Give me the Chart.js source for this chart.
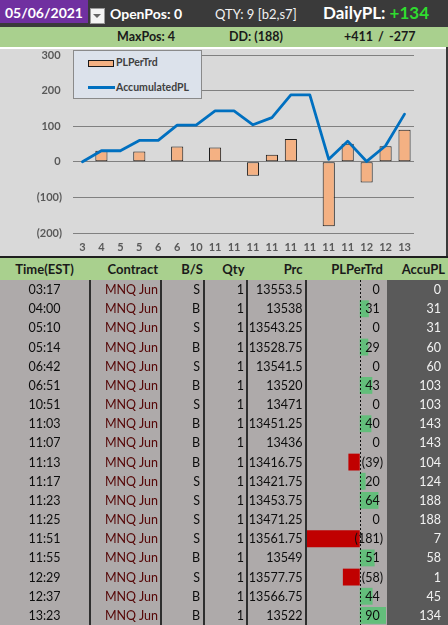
<!DOCTYPE html>
<html><head><meta charset="utf-8">
<script src="https://cdn.jsdelivr.net/npm/chart.js@4.4.1/dist/chart.umd.min.js"></script>
<style>
html,body{margin:0;padding:0;width:448px;height:625px;overflow:hidden;background:#ffffff;font-family:Lato,"Liberation Sans",sans-serif;}
.a{position:absolute;white-space:nowrap;}
#tbody{position:absolute;left:0;top:280px;width:448px;height:345px;background:#aeaaaa;}
#rows{position:absolute;left:0;top:0;width:448px;height:345px;display:grid;grid-template-rows:repeat(18,1fr);z-index:3;}
.row{position:relative;}
.cell{position:absolute;top:0;bottom:0;display:flex;align-items:center;font-size:12.5px;color:#0d0d0d;}
.hcell{position:absolute;top:258px;height:21px;display:flex;align-items:center;font-size:13px;font-weight:bold;color:#1a1a1a;}
.vline{position:absolute;top:0;width:2px;height:345px;background:#2e2e2e;z-index:2;}
</style></head><body>
<!-- top header -->
<div class="a" style="left:0;top:0;width:448px;height:27px;background:#3a3a3a;"></div>
<div class="a" style="left:0;top:0;width:88px;height:23px;background:#7030a0;color:#fff;font-weight:bold;font-size:14px;line-height:26px;text-align:center;">05/06/2021</div>
<div class="a" style="left:90px;top:8px;width:13px;height:14px;background:#f4f4f4;border:1px solid #9a9a9a;"></div>
<div class="a" style="left:93px;top:14px;width:0;height:0;border-left:4px solid transparent;border-right:4px solid transparent;border-top:4px solid #666;"></div>
<div class="a" style="left:110px;top:5px;color:#fff;font-weight:bold;font-size:14px;line-height:18px;">OpenPos: 0</div>
<div class="a" style="left:215px;top:5px;color:#f2f2f2;font-size:13px;line-height:18px;">QTY: 9 [b2,s7]</div>
<div class="a" style="left:323px;top:3px;color:#fff;font-weight:bold;font-size:17px;line-height:20px;">DailyPL: <span style="color:#2fdc2f;">+134</span></div>
<!-- second row -->
<div class="a" style="left:0;top:27px;width:448px;height:20px;background:#a9d08e;"></div>
<div class="a" style="left:117px;top:28px;font-weight:bold;font-size:12.5px;line-height:18px;color:#1a1a1a;">MaxPos: 4</div>
<div class="a" style="left:229px;top:28px;font-weight:bold;font-size:12.5px;line-height:18px;color:#1a1a1a;">DD: (188)</div>
<div class="a" style="left:344px;top:28px;font-weight:bold;font-size:12.5px;line-height:18px;color:#1a1a1a;">+411</div>
<div class="a" style="left:378px;top:28px;font-weight:bold;font-size:12.5px;line-height:18px;color:#1a1a1a;">/</div>
<div class="a" style="left:389px;top:28px;font-weight:bold;font-size:12.5px;line-height:18px;color:#1a1a1a;">-277</div>
<!-- chart area -->
<div class="a" style="left:0;top:49px;width:446px;height:207px;background:#d9d9d9;"></div>
<canvas id="c1" class="a" style="left:0;top:49px;" width="446" height="207"></canvas>
<div class="a" style="left:446px;top:47px;width:2px;height:211px;background:#3a3a3a;"></div>
<div class="a" style="left:0;top:256px;width:448px;height:2px;background:#1f1f1f;"></div>
<div id="legend" class="a" style="left:73px;top:50px;width:127px;height:47px;background:#dce2eb;border:1px solid #8a8a8a;"></div>
<!-- table header -->
<div class="a" style="left:0;top:258px;width:448px;height:22px;background:#a9d08e;"></div>
<div id="thead"></div>
<!-- table body -->
<div id="tbody">
  <div class="a" style="left:387px;top:0;width:61px;height:345px;background:#5a5a5a;"></div>
  <canvas id="c2" class="a" style="left:307px;top:0;z-index:1;" width="79" height="345"></canvas>
  <div class="vline" style="left:89px;"></div>
  <div class="vline" style="left:160px;"></div>
  <div class="vline" style="left:203px;"></div>
  <div class="vline" style="left:246px;"></div>
  <div class="vline" style="left:305px;"></div>
  <div id="rows"></div>
</div>
<script>
// ---- data ----
const hourLabels = ['3','4','5','5','6','6','10','11','11','11','11','11','11','11','11','12','12','13'];
const times = ['03:17','04:00','05:10','05:14','06:42','06:51','10:51','11:03','11:07','11:13','11:17','11:23','11:25','11:51','11:55','12:29','12:37','13:23'];
const contracts = ['MNQ Jun','MNQ Jun','MNQ Jun','MNQ Jun','MNQ Jun','MNQ Jun','MNQ Jun','MNQ Jun','MNQ Jun','MNQ Jun','MNQ Jun','MNQ Jun','MNQ Jun','MNQ Jun','MNQ Jun','MNQ Jun','MNQ Jun','MNQ Jun'];
const sides = ['S','B','S','B','S','B','S','B','B','B','S','S','S','S','B','S','B','B'];
const qtys = [1,1,1,1,1,1,1,1,1,1,1,1,1,1,1,1,1,1];
const prices = ['13553.5','13538','13543.25','13528.75','13541.5','13520','13471','13451.25','13436','13416.75','13421.75','13453.75','13471.25','13561.75','13549','13577.75','13566.75','13522'];
const plPerTrd = [0,31,0,29,0,43,0,40,0,-39,20,64,0,-181,51,-58,44,90];
const accuPL = [0,31,31,60,60,103,103,143,143,104,124,188,188,7,58,1,45,134];
const yTicks = [-200,-100,0,100,200,300];
const headers = ['Time(EST)','Contract','B/S','Qty','Prc','PLPerTrd','AccuPL'];

const FONT = 'Lato, "Liberation Sans", sans-serif';
const acct = v => v < 0 ? '(' + (-v) + ')' : String(v);

// ---- main chart ----
const chart1 = new Chart(document.getElementById('c1'), {
  data: {
    labels: hourLabels,
    datasets: [
      { type:'bar', label:'PLPerTrd', data: plPerTrd, backgroundColor:'#f4b183', borderColor:'#1a1a1a',
        borderWidth:1, borderSkipped:false, order:2, categoryPercentage:1, barPercentage:0.64 },
      { type:'line', label:'AccumulatedPL', data: accuPL, borderColor:'#0070c0', borderWidth:2.8,
        pointRadius:0, tension:0, order:1, borderJoinStyle:'round', borderCapStyle:'round' }
    ]
  },
  options: {
    responsive:false, animation:false, devicePixelRatio:1,
    layout:{ padding:{ left:0, right:32, top:6, bottom:0 } },
    plugins:{ legend:{ display:false }, tooltip:{ enabled:false } },
    scales:{
      x:{ offset:true, grid:{ display:false, drawTicks:false }, border:{ display:false },
          ticks:{ color:'#595959', font:{ family:FONT, size:11, weight:'bold' }, padding:8, autoSkip:false, maxRotation:0 },
          afterFit(s){ s.height = 23; } },
      y:{ min:yTicks[0], max:yTicks[yTicks.length-1],
          afterBuildTicks(s){ s.ticks = yTicks.map(v => ({ value:v })); },
          ticks:{ color:'#595959', font:{ family:FONT, size:11, weight:'bold' }, padding:11,
                  callback: v => v < 0 ? acct(v) : v + '\u2009' },
          grid:{ color:'#808080', drawTicks:false, lineWidth:1 }, border:{ display:false },
          afterFit(s){ s.width = 73; s.paddingTop = 0; s.paddingBottom = 0; } }
    }
  }
});

// ---- legend (HTML, from datasets) ----
const lg = document.getElementById('legend');
chart1.data.datasets.forEach((ds, i) => {
  const top = i === 0 ? 5 : 30;
  const sw = document.createElement('div');
  sw.className = 'a';
  if (ds.type === 'bar') {
    sw.style.cssText = `left:14px;top:${top+4}px;width:24px;height:5px;background:${ds.backgroundColor};border:1px solid ${ds.borderColor};`;
  } else {
    sw.style.cssText = `left:14px;top:${top+5}px;width:27px;height:3px;background:${ds.borderColor};`;
  }
  lg.appendChild(sw);
  const t = document.createElement('div');
  t.className = 'a';
  t.style.cssText = `left:42px;top:${top}px;font-size:10.5px;line-height:13px;color:#404040;font-weight:bold;`;
  t.textContent = ds.label;
  lg.appendChild(t);
});

// ---- table header ----
const hdrPos = [
  'left:0;width:89px;justify-content:center;',
  'right:290px;', 'right:245px;', 'right:203.5px;', 'right:145.5px;', 'right:65px;', 'right:3px;'
];
const th = document.getElementById('thead');
headers.forEach((h, i) => {
  const d = document.createElement('div');
  d.className = 'hcell';
  d.style.cssText += hdrPos[i];
  d.textContent = h;
  th.appendChild(d);
});

// ---- table rows ----
const colPos = [
  'left:0;width:89px;justify-content:center;',
  'right:290px;color:#550606;', 'right:248px;', 'right:204px;', 'right:145.5px;', 'right:65px;',
  'right:7px;color:#f2f2f2;'
];
const rowsEl = document.getElementById('rows');
times.forEach((t, i) => {
  const r = document.createElement('div');
  r.className = 'row';
  const vals = [t, contracts[i], sides[i], String(qtys[i]), prices[i], null, String(accuPL[i])];
  vals.forEach((v, j) => {
    const c = document.createElement('div');
    c.className = 'cell';
    c.style.cssText += colPos[j];
    if (j === 5) {
      const p = plPerTrd[i];
      c.innerHTML = acct(p) + (p < 0 ? '' : '<span style="visibility:hidden">)</span>');
    } else {
      c.textContent = v;
    }
    r.appendChild(c);
  });
  rowsEl.appendChild(r);
});

// ---- in-cell data bars ----
const axisLine = {
  id:'axisLine',
  afterDatasetsDraw(ch){
    const x = Math.round(ch.scales.x.getPixelForValue(0)) + 0.5;
    const ctx = ch.ctx;
    ctx.save();
    ctx.strokeStyle = '#111';
    ctx.lineWidth = 1;
    ctx.setLineDash([2,2]);
    ctx.beginPath();
    ctx.moveTo(x, 0);
    ctx.lineTo(x, ch.height);
    ctx.stroke();
    ctx.restore();
  }
};
new Chart(document.getElementById('c2'), {
  type:'bar',
  data:{ labels: times, datasets:[{ data: plPerTrd,
    backgroundColor: plPerTrd.map(v => v < 0 ? '#c00000' : '#63be7b'),
    borderWidth:0, categoryPercentage:1, barPercentage:0.88 }] },
  options:{
    indexAxis:'y', responsive:false, animation:false, devicePixelRatio:1,
    layout:{ padding:0 },
    plugins:{ legend:{ display:false }, tooltip:{ enabled:false } },
    scales:{
      x:{ display:false, min: Math.min(...plPerTrd), max: Math.max(...plPerTrd) },
      y:{ display:false, offset:true }
    }
  },
  plugins:[axisLine]
});
</script>
</body></html>
